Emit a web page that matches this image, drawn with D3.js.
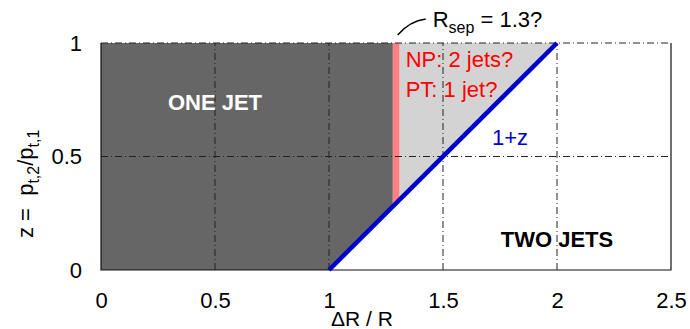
<!DOCTYPE html>
<html>
<head>
<meta charset="utf-8">
<script src="https://cdn.jsdelivr.net/npm/d3@7"></script>
<style>
  body { margin: 0; background: #fff; }
  svg { font-family: "Liberation Sans", Arial, sans-serif; }
</style>
</head>
<body>
<main></main>
<script>
// values
const xTicks = [0, 0.5, 1, 1.5, 2, 2.5];
const yTicks = [0, 0.5, 1];
const xGrid = [0.5, 1, 1.5, 2];
const yGrid = [0.5, 1];
const rSepLo = 1.28;   // left edge of the pink R_sep band
const rSepHi = 1.31;   // right edge
// boundary line dR/R = 1 + z
const boundary = [{ x: 1, z: 0 }, { x: 2, z: 1 }];

const W = 690, H = 329;
const svg = d3.select("main").append("svg")
  .attr("width", W).attr("height", H).attr("viewBox", `0 0 ${W} ${H}`);

const x = d3.scaleLinear().domain([0, 2.5]).range([101, 671]);
const y = d3.scaleLinear().domain([0, 1]).range([270, 43]);

const poly = pts => "M" + pts.map(p => x(p[0]) + "," + y(p[1])).join("L") + "Z";
const onLine = v => [v, v - 1];

// regions
svg.append("path")
  .attr("d", poly([[0, 0], [1, 0], onLine(rSepLo), [rSepLo, 1], [0, 1]]))
  .attr("fill", "#666666");
svg.append("path")
  .attr("d", poly([onLine(rSepLo), onLine(rSepHi), [rSepHi, 1], [rSepLo, 1]]))
  .attr("fill", "#ff8080");
svg.append("path")
  .attr("d", poly([onLine(rSepHi), [2, 1], [rSepHi, 1]]))
  .attr("fill", "#d3d3d3");

// grid, dash-dot
const grid = svg.append("g")
  .attr("stroke", "#222").attr("stroke-width", 1)
  .attr("stroke-dasharray", "7,3,1,3").attr("fill", "none");
grid.selectAll("line.vx").data(xGrid).join("line")
  .attr("x1", d => x(d)).attr("x2", d => x(d))
  .attr("y1", y(0)).attr("y2", y(1));
grid.selectAll("line.hy").data(yGrid).join("line")
  .attr("x1", x(0)).attr("x2", x(2.5))
  .attr("y1", d => y(d)).attr("y2", d => y(d));

// frame (left, bottom, right)
svg.append("path")
  .attr("d", `M${x(0)},${y(1)}V${y(0)}H${x(2.5)}V${y(1)}`)
  .attr("fill", "none").attr("stroke", "#111").attr("stroke-width", 1.2);

// blue boundary line
svg.append("path")
  .datum(boundary)
  .attr("d", d3.line().x(d => x(d.x)).y(d => y(d.z)))
  .attr("stroke", "#0000cc").attr("stroke-width", 4.5)
  .attr("fill", "none");

// axes tick labels
const xAxis = svg.append("g").attr("transform", `translate(0,${y(0)})`)
  .call(d3.axisBottom(x).tickValues(xTicks).tickSize(0).tickPadding(22)
    .tickFormat(d3.format("")));
const yAxis = svg.append("g").attr("transform", `translate(${x(0)},0)`)
  .call(d3.axisLeft(y).tickValues(yTicks).tickSize(0).tickPadding(19)
    .tickFormat(d3.format("")));
[xAxis, yAxis].forEach(a => {
  a.select(".domain").remove();
  a.selectAll("text").attr("font-size", 22).attr("fill", "#000")
    .attr("font-family", "Liberation Sans, Arial, sans-serif");
});

// axis titles
svg.append("text")
  .attr("x", x(1) + 2).attr("y", 326)
  .attr("font-size", 21).text("ΔR / R");

const yl = svg.append("text")
  .attr("transform", "translate(33,238) rotate(-90)")
  .attr("font-size", 22).style("white-space", "pre");
yl.append("tspan").text("z =\u00a0\u00a0p");
yl.append("tspan").attr("font-size", 16).attr("dy", 6).text("t,2");
yl.append("tspan").attr("dy", -6).text("/p");
yl.append("tspan").attr("font-size", 16).attr("dy", 6).text("t,1");

// region labels
svg.append("text")
  .attr("x", x(0.5)).attr("y", y(0.705))
  .attr("text-anchor", "middle").attr("font-size", 22)
  .attr("font-weight", "bold").attr("fill", "#fff").text("ONE JET");
svg.append("text")
  .attr("x", x(2)).attr("y", y(0.1))
  .attr("text-anchor", "middle").attr("font-size", 22)
  .attr("font-weight", "bold").attr("fill", "#000").text("TWO JETS");

svg.append("text")
  .attr("x", x(rSepHi) + 6).attr("y", y(0.895))
  .attr("font-size", 22).attr("fill", "#ff0000").text("NP: 2 jets?");
svg.append("text")
  .attr("x", x(rSepHi) + 6).attr("y", y(0.763))
  .attr("font-size", 22).attr("fill", "#ff0000").text("PT: 1 jet?");

svg.append("text")
  .attr("x", x(1.715)).attr("y", y(0.55))
  .attr("font-size", 22).attr("fill", "#0000cc").text("1+z");

// R_sep annotation
svg.append("path")
  .attr("d", `M${x(rSepHi) - 2},35 Q${x(rSepHi) + 10},21 ${x(rSepHi) + 26},19`)
  .attr("fill", "none").attr("stroke", "#000").attr("stroke-width", 1.5);
const rs = svg.append("text")
  .attr("x", x(rSepHi) + 33).attr("y", 27).attr("font-size", 22);
rs.append("tspan").text("R");
rs.append("tspan").attr("font-size", 16).attr("dy", 6).text("sep");
rs.append("tspan").attr("dy", -6).text(" = 1.3?");
</script>
</body>
</html>
